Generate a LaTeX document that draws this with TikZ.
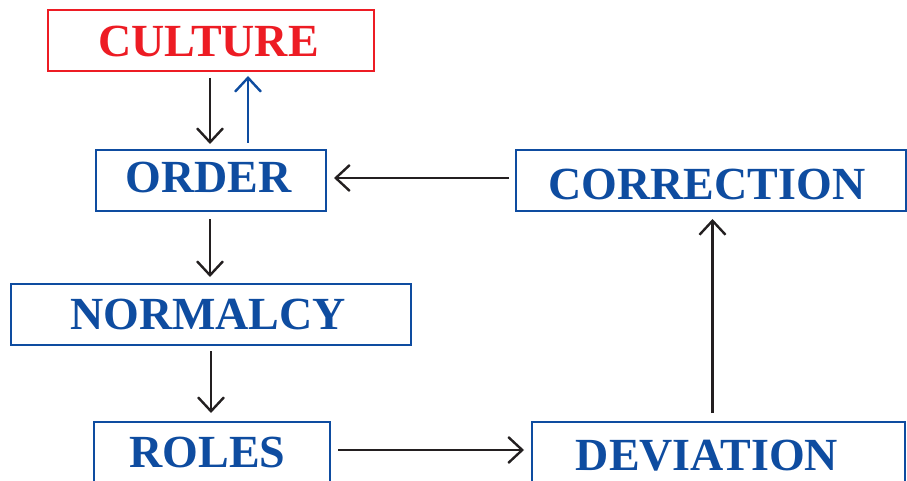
\documentclass[tikz,border=0pt]{standalone}
\usepackage{fontspec}
\setmainfont{Liberation Serif}
\usetikzlibrary{arrows.meta}
\definecolor{cblue}{RGB}{14,76,160}
\definecolor{cred}{RGB}{237,28,36}
\definecolor{cblack}{RGB}{35,31,32}
\begin{document}
\begin{tikzpicture}[x=1pt,y=-1pt,
  box/.style={draw=cblue, line width=2pt, rectangle, inner sep=0pt},
  lbl/.style={anchor=base, inner sep=0pt, text=cblue, font=\bfseries\fontsize{46}{50}\selectfont},
  arr/.style={draw=cblack, line width=2.4pt, -{Straight Barb[length=14pt,width=26pt]}}]
\clip (0,0) rectangle (907,481);
\fill[white] (0,0) rectangle (907,481);
% boxes
\node[box, draw=cred, minimum width=326pt, minimum height=61pt] (culture) at (211,40.5) {};
\node[box, minimum width=230pt, minimum height=61pt] (order) at (211,180.5) {};
\node[box, minimum width=390pt, minimum height=61pt] (correction) at (711,180.5) {};
\node[box, minimum width=400pt, minimum height=61pt] (normalcy) at (211,314.5) {};
\node[box, minimum width=236pt, minimum height=61pt] (roles) at (212,452.5) {};
\node[box, minimum width=373pt, minimum height=61pt] (deviation) at (718.5,452.5) {};
% labels
\node[lbl, text=cred] (tculture) at (208.5,57) {CULTURE};
\node[lbl] (torder) at (208.5,193) {ORDER};
\node[lbl] (tcorrection) at (707,200) {CORRECTION};
\node[lbl] (tnormalcy) at (208,329) {NORMALCY};
\node[lbl] (troles) at (207.5,467) {ROLES};
\node[lbl] (tdeviation) at (707,470) {DEVIATION};
% connectors
\draw[arr, shorten <=6pt, shorten >=5pt] ([xshift=-1pt]culture.south) -- ([xshift=-1pt]order.north);
\draw[arr, draw=cblue, shorten <=6pt, shorten >=4pt] ([xshift=37pt]order.north) -- ([xshift=37pt]culture.south);
\draw[arr, shorten <=7pt, shorten >=6pt] ([xshift=-1pt]order.south) -- ([xshift=-1pt]normalcy.north);
\draw[arr, shorten <=5pt, shorten >=8pt] (normalcy.south) -- (normalcy.south |- roles.north);
\draw[arr, shorten <=7pt, shorten >=7pt] ([yshift=2.5pt]roles.east) -- ([yshift=2.5pt]deviation.west);
\draw[arr, shorten <=8pt, shorten >=7pt] ([xshift=1.5pt]correction.south |- deviation.north) -- ([xshift=1.5pt]correction.south);
\draw[arr, shorten <=6pt, shorten >=7pt] ([yshift=2.5pt]correction.west) -- ([yshift=2.5pt]order.east);
\end{tikzpicture}
\end{document}
